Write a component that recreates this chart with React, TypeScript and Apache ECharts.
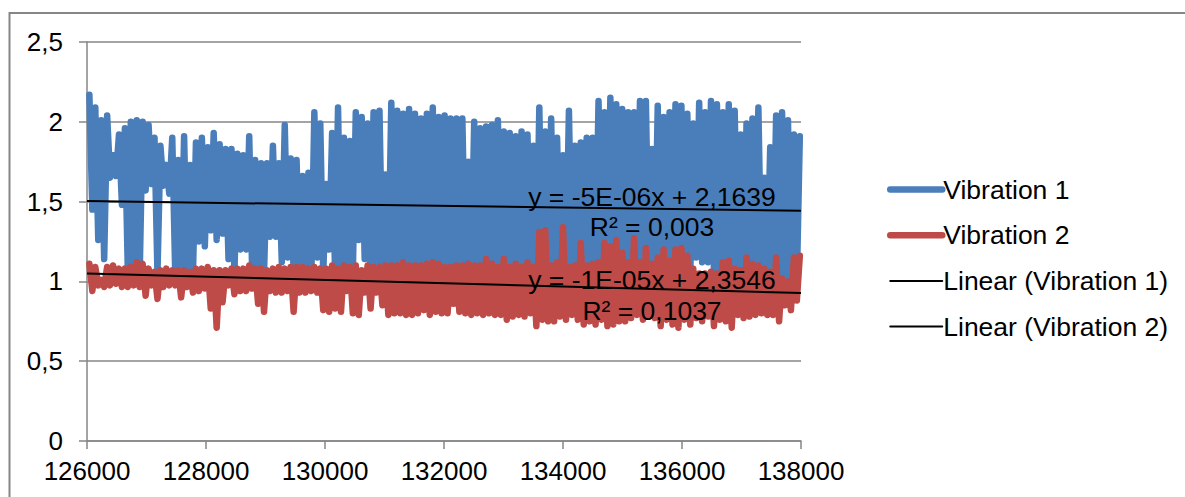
import React, { useEffect, useRef } from "react";
import * as echarts from "echarts";

const slotStart = 126040;
const slotStep = 99.5;

const blueHigh = [
  2.17, 2.09, 2.01, 2.04, 1.79, 1.92, 1.96, 2.0, 2.01, 2.0, 1.98, 1.9, 1.85, 1.73, 1.9, 1.76, 1.91, 1.73, 1.87, 1.9,
  1.84, 1.93, 1.86, 1.83, 1.83, 1.8, 1.79, 1.91, 1.76, 1.74, 1.74, 1.85, 1.74, 1.98, 1.77, 1.76, 1.66, 1.68, 2.06, 1.99,
  1.61, 1.93, 2.09, 1.9, 1.88, 2.06, 2.03, 1.99, 2.06, 2.07, 1.67, 2.12, 2.07, 2.05, 2.08, 2.05, 2.02, 2.05, 2.09, 2.03,
  2.04, 2.02, 2.02, 2.02, 1.75, 2.0, 1.96, 1.97, 1.98, 2.01, 1.94, 1.93, 1.91, 1.94, 1.92, 1.85, 2.09, 1.94, 2.02, 1.9,
  1.79, 2.07, 1.85, 1.87, 1.9, 1.9, 2.13, 2.06, 2.15, 2.11, 2.08, 2.06, 2.06, 2.13, 2.13, 1.83, 2.1, 2.03, 2.06, 2.11,
  2.1, 2.05, 1.99, 2.12, 2.06, 2.13, 2.11, 2.06, 2.11, 2.07, 1.92, 1.99, 2.02, 2.09, 1.65, 1.84, 2.04, 2.06, 2.01, 1.92,
  1.91,
];
const blueLow = [
  1.45, 1.26, 1.14, 1.65, 1.66, 1.48, 1.05, 1.05, 1.05, 1.57, 1.61, 1.05, 1.6, 1.55, 1.05, 1.05, 1.05, 1.05, 1.25, 1.22,
  1.32, 1.26, 1.3, 1.14, 1.05, 1.2, 1.2, 1.05, 1.05, 1.05, 1.28, 1.28, 1.12, 1.15, 1.05, 1.05, 1.05, 1.05, 1.15, 1.05,
  1.2, 1.05, 1.05, 1.05, 1.05, 1.26, 1.14, 1.05, 1.05, 1.05, 1.05, 1.05, 1.05, 1.05, 1.05, 1.05, 1.05, 1.05, 1.05, 1.05,
  1.05, 1.05, 1.05, 1.05, 1.05, 1.05, 1.05, 1.05, 1.05, 1.05, 1.05, 1.05, 1.05, 1.05, 1.05, 1.05, 1.05, 1.05, 1.05, 1.05,
  1.05, 1.05, 1.05, 1.05, 1.05, 1.05, 1.12, 1.05, 1.05, 1.05, 1.05, 1.05, 1.05, 1.05, 1.05, 1.05, 1.05, 1.05, 1.05, 1.05,
  1.05, 1.05, 1.15, 1.12, 1.12, 1.05, 1.05, 1.05, 1.05, 1.05, 1.05, 1.05, 1.05, 1.05, 1.05, 1.05, 1.05, 1.0, 0.95, 1.0,
  1.0,
];
const redHigh = [
  1.11, 1.09, 1.01, 1.09, 1.1, 1.08, 1.08, 1.09, 1.12, 1.11, 1.08, 1.06, 1.07, 1.08, 1.07, 1.07, 1.07, 1.06, 1.08, 1.08,
  1.09, 1.07, 1.07, 1.07, 1.08, 1.08, 1.08, 1.1, 1.08, 1.08, 1.07, 1.08, 1.09, 1.08, 1.09, 1.09, 1.09, 1.08, 1.09, 1.08,
  1.08, 1.1, 1.08, 1.1, 1.09, 1.1, 1.07, 1.1, 1.09, 1.09, 1.1, 1.1, 1.1, 1.12, 1.1, 1.1, 1.1, 1.11, 1.12, 1.11,
  1.09, 1.09, 1.1, 1.1, 1.11, 1.1, 1.1, 1.14, 1.11, 1.09, 1.14, 1.09, 1.11, 1.09, 1.12, 1.09, 1.31, 1.32, 1.1, 1.12,
  1.34, 1.09, 1.1, 1.24, 1.1, 1.11, 1.12, 1.24, 1.22, 1.26, 1.18, 1.12, 1.27, 1.12, 1.21, 1.11, 1.15, 1.2, 1.13, 1.2,
  1.21, 1.16, 1.08, 1.05, 1.05, 1.06, 1.05, 1.12, 1.13, 1.08, 1.07, 1.15, 1.11, 1.1, 1.08, 1.06, 1.15, 1.02, 1.0, 1.15,
  1.16,
];
const redLow = [
  0.94, 0.975, 0.965, 0.975, 0.985, 0.965, 0.965, 0.975, 0.965, 0.91, 0.975, 0.89, 0.965, 0.975, 0.975, 0.9, 0.965, 0.93, 0.94, 0.955,
  0.83, 0.71, 0.87, 0.975, 0.92, 0.94, 0.94, 0.955, 0.86, 0.81, 0.94, 0.93, 0.93, 0.94, 0.81, 0.93, 0.93, 0.94, 0.93, 0.82,
  0.81, 0.83, 0.81, 0.94, 0.8, 0.79, 0.93, 0.83, 0.93, 0.85, 0.79, 0.8, 0.8, 0.79, 0.79, 0.8, 0.82, 0.79, 0.81, 0.8,
  0.8, 0.86, 0.81, 0.8, 0.79, 0.8, 0.79, 0.8, 0.79, 0.79, 0.76, 0.78, 0.79, 0.78, 0.8, 0.72, 0.76, 0.75, 0.75, 0.78,
  0.76, 0.79, 0.76, 0.73, 0.75, 0.73, 0.76, 0.72, 0.73, 0.75, 0.75, 0.77, 0.79, 0.76, 0.78, 0.77, 0.72, 0.76, 0.73, 0.71,
  0.76, 0.73, 0.77, 0.75, 0.78, 0.72, 0.76, 0.75, 0.71, 0.79, 0.77, 0.78, 0.79, 0.8, 0.79, 0.79, 0.75, 0.85, 0.82, 0.88,
  0.92,
];

const trendX = [126000, 138000];
const trendBlue = [1.503, 1.443];
const trendRed = [1.05, 0.927];

const seriesNames = ["Vibration 1", "Vibration 2", "Linear (Vibration 1)", "Linear (Vibration 2)"];
const trendLabels = ["y = -5E-06x + 2,1639", "R² = 0,003", "y = -1E-05x + 2,3546", "R² = 0,1037"];

const zigzag = (high: number[], low: number[]) => {
  const pts: number[][] = [];
  high.forEach((h, i) => {
    const x = slotStart + i * slotStep;
    pts.push([x, h]);
    if (i < high.length - 1) pts.push([x + slotStep / 2, low[i]]);
  });
  return pts;
};

const FONT = "'Liberation Sans', Arial, sans-serif";
const GREY = "#868686";

export default function App() {
  const ref = useRef<HTMLDivElement>(null);
  useEffect(() => {
    document.body.style.margin = "0";
    const chart = echarts.init(ref.current!, null, { renderer: "svg" });
    const thick = (color: string) => ({
      type: "line" as const,
      showSymbol: false,
      symbol: "none",
      lineStyle: { color, width: 6.5, cap: "round" as const, join: "round" as const },
      itemStyle: { color },
    });
    const thin = {
      type: "line" as const,
      showSymbol: false,
      symbol: "none",
      lineStyle: { color: "#000", width: 2 },
      itemStyle: { color: "#000" },
    };
    const text = (t: string, y: number) => ({
      type: "text" as const,
      x: 652,
      y,
      z: 100,
      style: { text: t, fill: "#000", font: `26.5px ${FONT}`, textAlign: "center" as const, textVerticalAlign: "middle" as const },
    });
    chart.setOption({
      animation: false,
      backgroundColor: "#fff",
      textStyle: { fontFamily: FONT },
      grid: { left: 87, right: 384, top: 42, bottom: 56 },
      xAxis: {
        type: "value",
        min: 126000,
        max: 138000,
        interval: 2000,
        axisLine: { onZero: false, lineStyle: { color: GREY, width: 1.5 } },
        axisTick: { length: 8, lineStyle: { color: GREY, width: 1.5 } },
        axisLabel: { color: "#000", fontSize: 26, margin: 17, fontFamily: FONT, formatter: (v: number) => String(v) },
        splitLine: { show: false },
      },
      yAxis: {
        type: "value",
        min: 0,
        max: 2.5,
        interval: 0.5,
        axisLine: { show: true, lineStyle: { color: GREY, width: 1.5 } },
        axisTick: { show: true, length: 8, lineStyle: { color: GREY, width: 1.5 } },
        axisLabel: { color: "#000", fontSize: 26, margin: 24, fontFamily: FONT, formatter: (v: number) => String(v).replace(".", ",") },
        splitLine: { show: true, lineStyle: { color: GREY, width: 1.5 } },
      },
      legend: {
        orient: "vertical",
        left: 882,
        top: 171,
        itemWidth: 52,
        itemHeight: 28,
        itemGap: 18.7,
        itemStyle: { opacity: 0 },
        lineStyle: { width: "inherit", cap: "round" },
        textStyle: { color: "#000", fontSize: 26.5, fontFamily: FONT, padding: [0, 0, 0, -4] },
        data: seriesNames,
      },
      series: [
        { ...thick("#4a7ebb"), name: seriesNames[0], data: zigzag(blueHigh, blueLow), z: 2 },
        { ...thick("#be4b48"), name: seriesNames[1], data: zigzag(redHigh, redLow), z: 3 },
        { ...thin, name: seriesNames[2], data: trendX.map((x, i) => [x, trendBlue[i]]), z: 4 },
        { ...thin, name: seriesNames[3], data: trendX.map((x, i) => [x, trendRed[i]]), z: 4 },
      ],
      graphic: [
        { type: "polyline", z: 0, shape: { points: [[9.5, 497], [9.5, 13], [1185, 13]] }, style: { stroke: GREY, lineWidth: 2, fill: "none" } },
        text(trendLabels[0], 197),
        text(trendLabels[1], 227),
        text(trendLabels[2], 280),
        text(trendLabels[3], 311),
      ],
    });
    return () => chart.dispose();
  }, []);
  return <div ref={ref} style={{ width: 1185, height: 497 }} />;
}
